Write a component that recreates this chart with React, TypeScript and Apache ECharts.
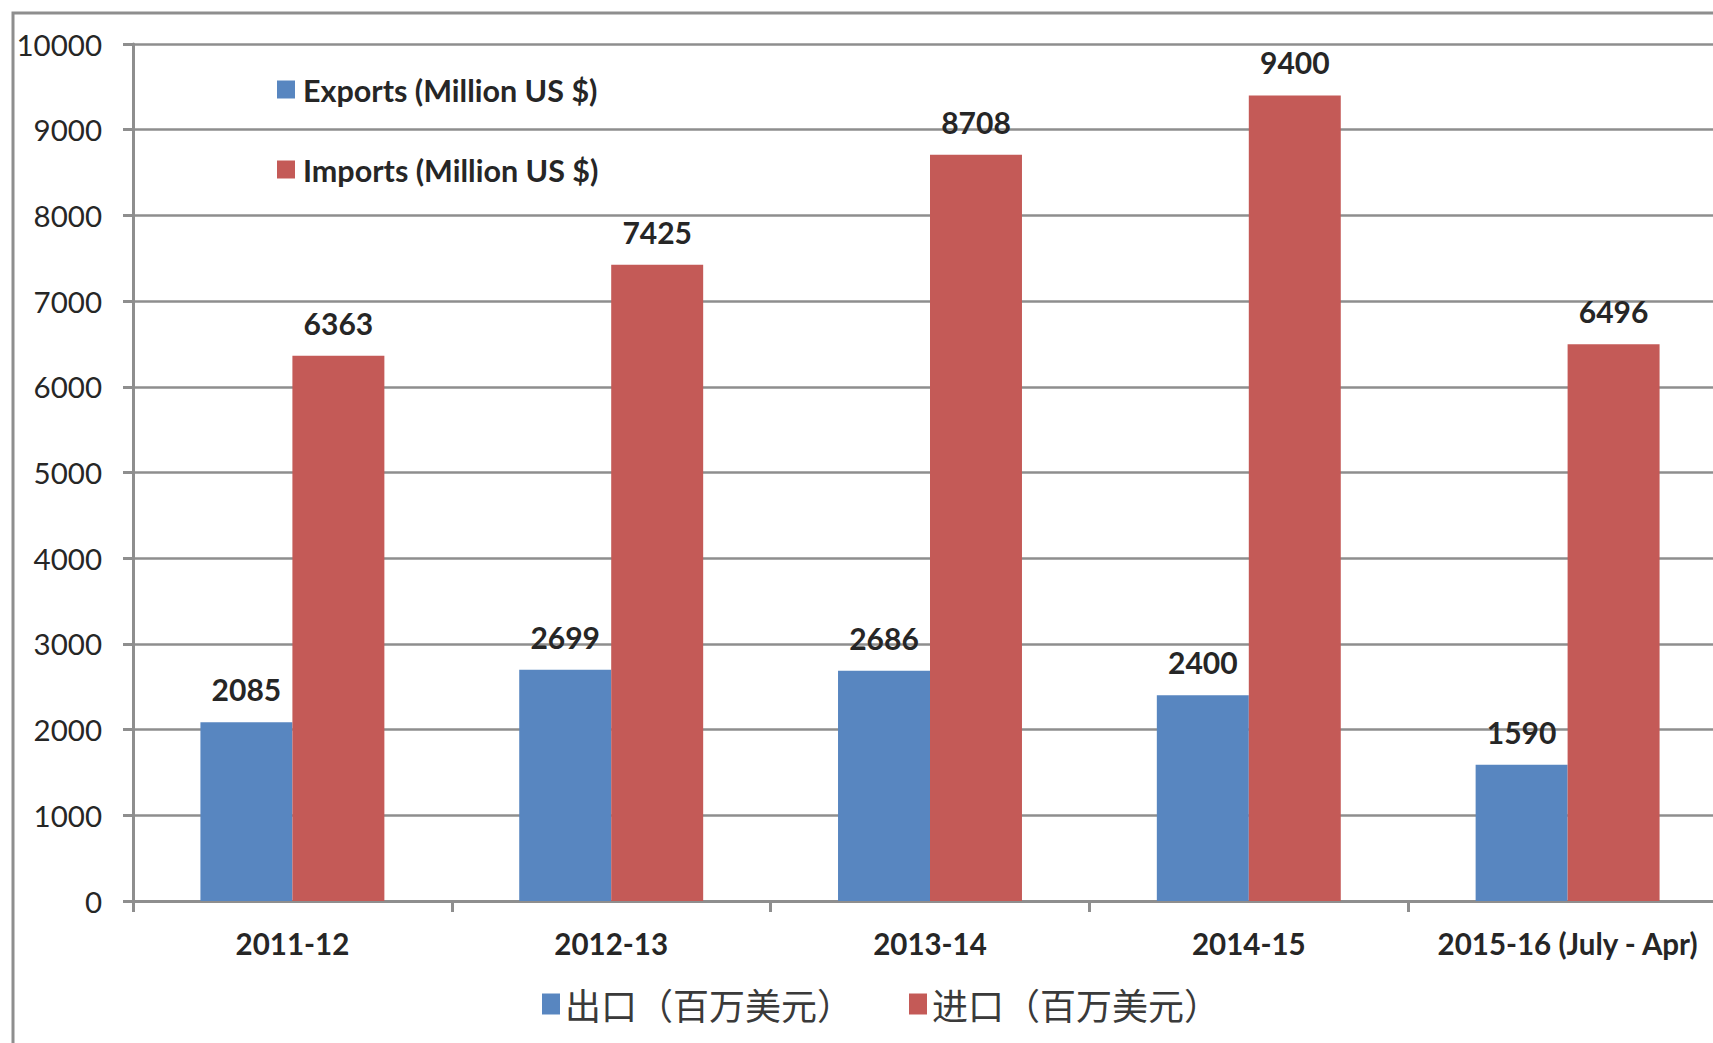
import React, { useEffect, useRef } from "react";
import * as echarts from "echarts";

const categories = ["2011-12", "2012-13", "2013-14", "2014-15", "2015-16 (July - Apr)"];
const exportsValues = [2085, 2699, 2686, 2400, 1590];
const importsValues = [6363, 7425, 8708, 9400, 6496];
const exportsNameCn = "出口（百万美元）";
const importsNameCn = "进口（百万美元）";
const exportsNameEn = "Exports (Million US $)";
const importsNameEn = "Imports (Million US $)";

const BLUE = "#5886C0";
const RED = "#C45A57";
const GRIDC = "#8e8e8e";

export default function App() {
  const ref = useRef<HTMLDivElement>(null);
  useEffect(() => {
    document.body.style.margin = "0";
    document.body.style.overflow = "hidden";
    const chart = echarts.init(ref.current!, null, { renderer: "svg" });
    const labelStyle = {
      show: true,
      position: "top" as const,
      distance: 18,
      fontFamily: "Lato",
      fontWeight: "bold" as const,
      fontSize: 30,
      color: "#262626",
    };
    chart.setOption({
      animation: false,
      backgroundColor: "#ffffff",
      grid: { left: 133, top: 44, width: 1594, height: 857, outerBoundsMode: "none", containLabel: false },
      xAxis: {
        type: "category",
        data: categories,
        axisLine: { show: true, lineStyle: { color: GRIDC, width: 3 } },
        axisTick: { show: true, length: 11, interval: 0, lineStyle: { color: GRIDC, width: 3 } },
        axisLabel: {
          interval: 0,
          margin: 27,
          fontFamily: "Lato",
          fontWeight: "bold",
          fontSize: 29.5,
          color: "#262626",
        },
      },
      yAxis: {
        type: "value",
        min: 0,
        max: 10000,
        interval: 1000,
        axisLine: { show: true, lineStyle: { color: GRIDC, width: 3 } },
        axisTick: { show: true, length: 10, lineStyle: { color: GRIDC, width: 3 } },
        splitLine: { show: true, lineStyle: { color: GRIDC, width: 2.5 } },
        axisLabel: {
          margin: 31,
          fontFamily: "Lato",
          fontSize: 29.5,
          color: "#262626",
          formatter: (v: number) => String(v),
        },
      },
      legend: [
        {
          data: [exportsNameEn, importsNameEn],
          orient: "vertical",
          left: 277,
          top: 74,
          padding: 0,
          icon: "rect",
          itemWidth: 18,
          itemHeight: 18,
          itemGap: 49,
          selectedMode: false,
          textStyle: {
            fontFamily: "Lato",
            fontWeight: "bold",
            fontSize: 30.5,
            lineHeight: 30,
            color: "#262626",
            padding: [0, 0, 0, 3],
          },
        },
        {
          data: [exportsNameCn, importsNameCn],
          orient: "horizontal",
          left: 542,
          top: 986,
          padding: 0,
          icon: "rect",
          itemWidth: 18,
          itemHeight: 21,
          itemGap: 56,
          selectedMode: false,
          textStyle: {
            fontFamily: "Noto Sans CJK SC",
            fontSize: 36,
            lineHeight: 36,
            color: "#3a3a3a",
          },
        },
      ],
      graphic: [
        {
          type: "polyline",
          shape: { points: [[13, 1043], [13, 13], [1713, 13]] },
          style: { stroke: GRIDC, lineWidth: 3, fill: "none" },
          silent: true,
        },
      ],
      series: [
        {
          name: exportsNameCn,
          type: "bar",
          data: exportsValues,
          barGap: "0%",
          barCategoryGap: "42.3%",
          itemStyle: { color: BLUE },
          label: labelStyle,
        },
        {
          name: importsNameCn,
          type: "bar",
          data: importsValues,
          barGap: "0%",
          barCategoryGap: "42.3%",
          itemStyle: { color: RED },
          label: labelStyle,
        },
        {
          name: exportsNameEn,
          type: "line",
          data: [],
          color: BLUE,
          itemStyle: { color: BLUE },
          lineStyle: { color: BLUE },
        },
        {
          name: importsNameEn,
          type: "line",
          data: [],
          color: RED,
          itemStyle: { color: RED },
          lineStyle: { color: RED },
        },
      ],
    });
    return () => chart.dispose();
  }, []);
  return <div ref={ref} style={{ width: 1713, height: 1043 }} />;
}
